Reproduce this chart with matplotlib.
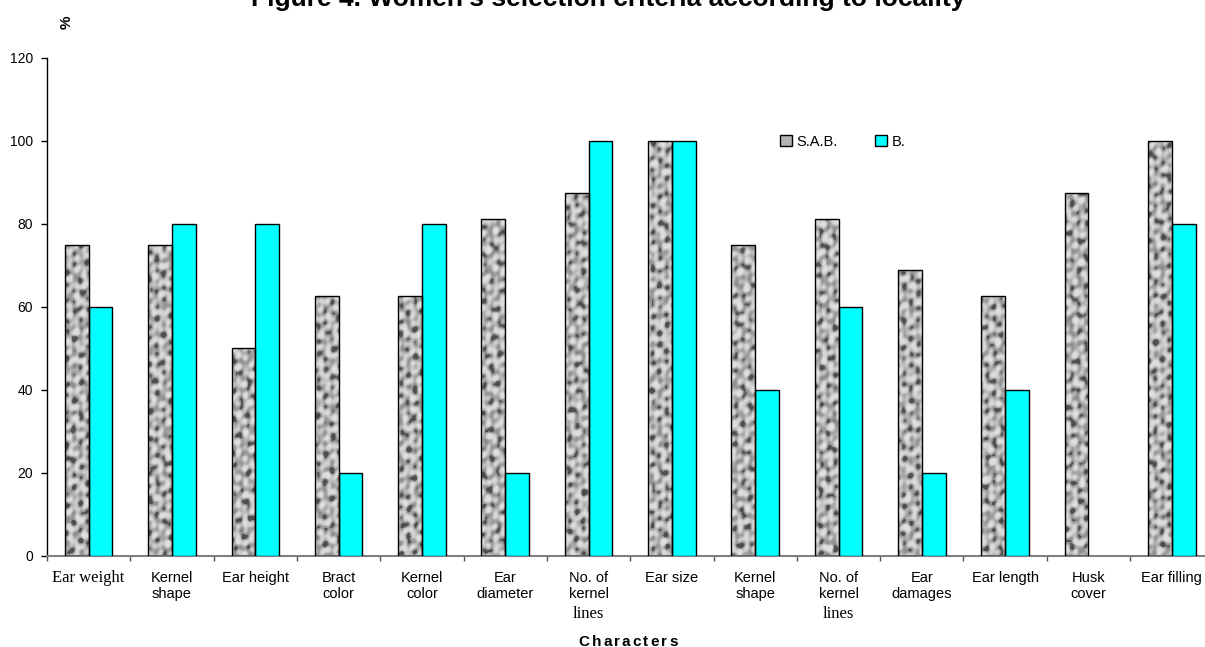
import numpy as np
import matplotlib
matplotlib.use("Agg")
import matplotlib.pyplot as plt
from matplotlib.patches import Patch
from matplotlib.transforms import blended_transform_factory

# data
categories = [["Ear weight"], ["Kernel", "shape"], ["Ear height"], ["Bract", "color"],
              ["Kernel", "color"], ["Ear", "diameter"], ["No. of", "kernel", "lines"],
              ["Ear size"], ["Kernel", "shape"], ["No. of", "kernel", "lines"],
              ["Ear", "damages"], ["Ear length"], ["Husk", "cover"], ["Ear filling"]]
sab = [75, 75, 50, 62.5, 62.5, 81.25, 87.5, 100, 75, 81.25, 68.75, 62.5, 87.5, 100]
b = [60, 80, 80, 20, 80, 20, 100, 100, 40, 60, 20, 40, 0, 80]
yticks = [0, 20, 40, 60, 80, 100, 120]

plt.rcParams['font.family'] = ['Liberation Sans', 'DejaVu Sans']
serif = ['Liberation Serif', 'DejaVu Serif']

fig = plt.figure(figsize=(12.05, 6.47), dpi=100)
ax = fig.add_axes([0.039, 0.141, 0.968, 0.7697])

x = np.arange(len(sab))
w = 0.285
gray_bars = ax.bar(x - w / 2, sab, w, color='#a8a8a8', edgecolor='none', zorder=2)
ax.bar(x + w / 2, b, w, color='#00ffff', edgecolor='black',
       linewidth=[1.0 if v > 0 else 0 for v in b], zorder=3)

# mottled texture for the grey bars (pure styling)
yy, xx = np.mgrid[0:500, 0:1170].astype(float)
field = np.zeros_like(xx)
for k in range(9):
    ang = k * np.pi / 9 + 0.37 * k
    f = 2 * np.pi / (7.0 + 1.1 * k)
    field += np.sin(f * (np.cos(ang) * xx + np.sin(ang) * yy) + 1.7 * k * k)
field /= 3.0
tex = 0.70 + 0.18 * np.tanh(1.3 * field) - 0.22 * (field < -0.9)
for bar in gray_bars:
    im = ax.imshow(tex, extent=[-0.5, 13.5, 0, 120], aspect='auto', cmap='gray',
                   vmin=0, vmax=1, zorder=2.5, interpolation='bilinear')
    im.set_clip_path(bar)
ax.bar(x - w / 2, sab, w, facecolor='none', edgecolor='black', linewidth=1.0, zorder=3)

ax.set_xlim(-0.5, 13.5)
ax.set_ylim(0, 120)
ax.set_yticks(yticks)
ax.set_xticks(np.arange(-0.5, 14, 1))
ax.set_xticklabels([])
ax.tick_params(axis='y', labelsize=10, length=4, pad=6, width=1)
ax.tick_params(axis='x', length=3.5, color='#555555', width=1)
for s in ['top', 'right']:
    ax.spines[s].set_visible(False)
ax.spines['left'].set_linewidth(1)
ax.spines['bottom'].set_color('#808080')
ax.spines['bottom'].set_linewidth(1.5)

# category labels
tr = blended_transform_factory(ax.transData, fig.transFigure)
for i, lines in enumerate(categories):
    for j, line in enumerate(lines):
        base = 582 + 16 * j
        fam = None
        size = 10.5
        if line in ("Ear weight", "lines"):
            fam, size = serif, 12
            if line == "lines":
                base = 618
        ax.text(i, 1 - base / 647, line, transform=tr, ha='center', va='baseline',
                fontsize=size, family=fam)

# x axis title with wide letter spacing
renderer = fig.canvas.get_renderer()
word = "Characters"
widths = []
for ch in word:
    t = fig.text(0, 0, ch, fontsize=11, fontweight='bold')
    widths.append(t.get_window_extent(renderer).width)
    t.remove()
gap = 2.2
total = sum(widths) + gap * (len(word) - 1)
xpos = 628 - total / 2
for ch, cw in zip(word, widths):
    fig.text(xpos / 1205, 1.5 / 647, ch, ha='left', va='baseline', fontsize=11,
             fontweight='bold')
    xpos += cw + gap

fig.text(608 / 1205, 1 - 6 / 647, "Figure 4. Women's selection criteria according to locality",
         ha='center', va='baseline', fontsize=19, fontweight='bold')
fig.text(0.055, 1 - 22 / 647, "%", rotation=90, ha='center', va='center',
         fontsize=11, fontweight='bold')

handles = [Patch(facecolor='#b4b4b4', edgecolor='black', label='S.A.B.'),
           Patch(facecolor='#00ffff', edgecolor='black', label='B.')]
ax.legend(handles=handles, loc='center', bbox_to_anchor=(0.682, 0.831), ncol=2,
          frameon=False, fontsize=10.5, handlelength=0.8, handleheight=0.8,
          handletextpad=0.3, columnspacing=2.6)

fig.savefig("out.png", dpi=100)
